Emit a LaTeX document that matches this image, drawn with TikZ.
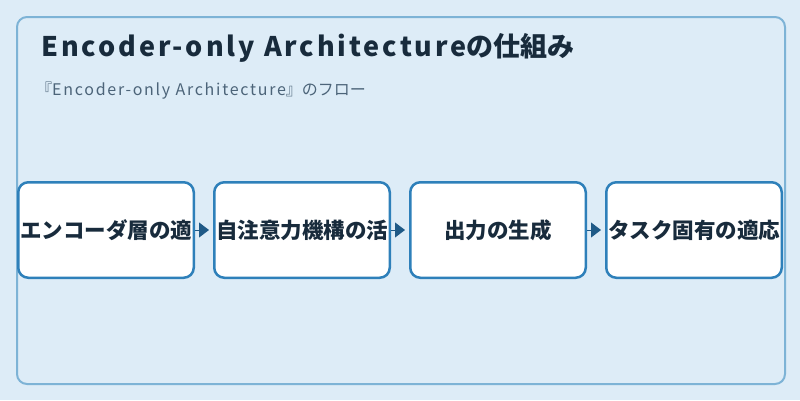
\documentclass[tikz,border=0pt]{standalone}
\usepackage{fontspec}
\setmainfont{Noto Sans CJK JP}
\newfontfamily\widelatin{Noto Sans CJK JP}[LetterSpace=10.8]
\usepackage{tikz}
\usetikzlibrary{positioning}
\usetikzlibrary{%
  arrows.meta,%
  calc%
}
\definecolor{pagebg}{HTML}{DDECF7}
\definecolor{framecol}{HTML}{7DB3D6}
\definecolor{boxline}{HTML}{2E80BA}
\definecolor{arrowcol}{HTML}{1F5A87}
\definecolor{titlecol}{HTML}{182B3C}
\definecolor{subcol}{HTML}{4C6479}
\tikzset{
  stepbox/.style={draw=boxline, line width=2.5pt, fill=white, rounded corners=10pt,
    minimum width=175.5pt, minimum height=95.5pt, inner sep=0pt,
    font=\bfseries\fontsize{21.5}{25}\selectfont, text=titlecol},
  flowarrow/.style={-{Triangle[length=10pt,width=15pt]}, draw=arrowcol, fill=arrowcol,
    line width=1pt, shorten >=4pt}
}

\begin{document}
\begin{tikzpicture}[x=1pt, y=-1pt]
\fill[pagebg] (0,0) rectangle (800,400);
\draw[framecol, line width=2pt, rounded corners=10pt] (17,17) rectangle (785,384);

\node[anchor=base west, inner sep=0pt, text=titlecol, font=\bfseries\fontsize{27}{32}\selectfont] (title) at (41,56) {{\widelatin Encoder-only Architecture}の仕組み};
\node[anchor=base west, inner sep=0pt, text=subcol, font=\fontsize{16}{19}\selectfont] (subtitle) at (36,95) {『{\widelatin Encoder-only Architecture}』のフロー};

\node[stepbox] (S1) at (106,230) {エンコーダ層の適};
\node[stepbox] (S2) at (302,230) {自注意力機構の活};
\node[stepbox] (S3) at (498,230) {出力の生成};
\node[stepbox] (S4) at (694,230) {タスク固有の適応};

\draw
	(S1) edge[flowarrow] (S2)
	(S2) edge[flowarrow] (S3)
	(S3) edge[flowarrow] (S4)
;
\end{tikzpicture}
\end{document}
